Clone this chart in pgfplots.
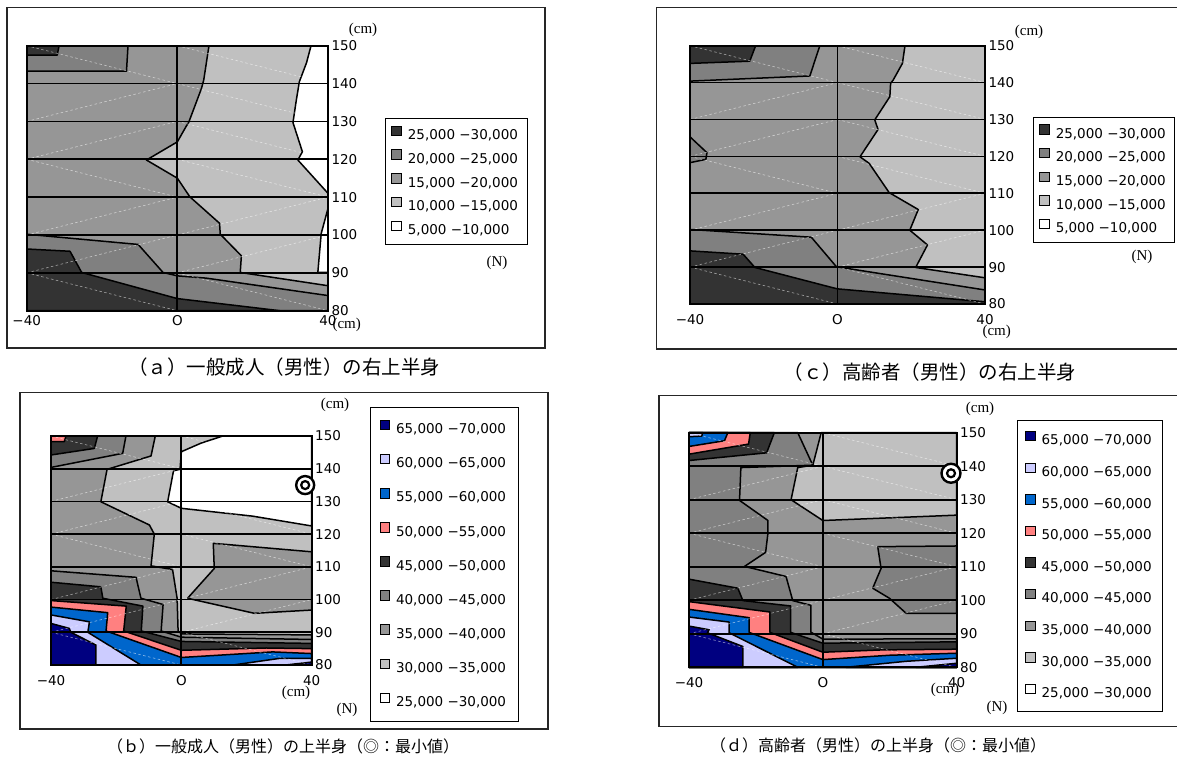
\documentclass[border=0pt]{standalone}
\usepackage{fontspec}
\usepackage{pgfplots}
\pgfplotsset{compat=1.18}
\setmainfont{DejaVu Sans}
\newfontfamily\jpfont{Noto Sans CJK JP}
\newfontfamily\unitfont{Liberation Serif}

\definecolor{g333}{HTML}{333333}
\definecolor{g808}{HTML}{808080}
\definecolor{g969}{HTML}{969696}
\definecolor{gc0}{HTML}{C0C0C0}
\definecolor{navyc}{HTML}{000080}
\definecolor{lavc}{HTML}{CCCCFF}
\definecolor{bluec}{HTML}{0066CC}
\definecolor{salc}{HTML}{FF8080}

\pgfplotsset{
  contourmap/.style={
    scale only axis, xmin=-40, xmax=40, ymin=80, ymax=150,
    enlargelimits=false, axis on top,
    xtick={-40,0,40}, xticklabels={−40,O,40},
    ytick={80,90,...,150}, yticklabels={80,90,100,110,120,130,140,150},
    yticklabel pos=right,
    grid=major, major grid style={black, line width=1.7pt},
    axis line style={black, line width=1.8pt},
    major tick length=0pt,
    tick label style={font=\fontsize{13.5}{16}\selectfont},
    legend cell align=left,
    legend style={draw=black, line width=0.9pt, anchor=north west,
      font=\fontsize{13.5}{16}\selectfont,
      nodes={text height=10pt, text depth=3pt, inner ysep=0pt, inner xsep=3pt},
      column sep=3pt},
    legend image code/.code={\draw[#1, draw=black, line width=1pt] (0pt,0.4pt) rectangle (9.5pt,9.9pt);},
  },
  band/.style={forget plot, fill=#1, draw=black, line width=1.5pt, line join=round},
  base/.style={forget plot, fill=#1, draw=none},
}

% triangulation lines of the surface mesh
\newcommand\meshlines{%
  \addplot[forget plot, white, line width=0.6pt, dash pattern=on 2.5pt off 2.5pt,
    opacity=0.55, unbounded coords=jump] coordinates {
    (-40,150) (0,140) (nan,nan)
    (-40,130) (0,140) (nan,nan)
    (-40,120) (0,130) (nan,nan)
    (-40,120) (0,110) (nan,nan)
    (-40,100) (0,110) (nan,nan)
    (-40,90) (0,100) (nan,nan)
    (-40,90) (0,80) (nan,nan)
    (0,150) (40,140) (nan,nan)
    (0,140) (40,130) (nan,nan)
    (0,130) (40,120) (nan,nan)
    (0,120) (40,110) (nan,nan)
    (0,100) (40,110) (nan,nan)
    (0,90) (40,100) (nan,nan)
    (0,90) (40,80)
  };}

\newcommand\legendAC{%
  \addlegendimage{fill=g333}\addlegendentry{25,000 −30,000}
  \addlegendimage{fill=g808}\addlegendentry{20,000 −25,000}
  \addlegendimage{fill=g969}\addlegendentry{15,000 −20,000}
  \addlegendimage{fill=gc0}\addlegendentry{10,000 −15,000}
  \addlegendimage{fill=white}\addlegendentry{5,000 −10,000}}

\newcommand\legendBD{%
  \addlegendimage{fill=navyc}\addlegendentry{65,000 −70,000}
  \addlegendimage{fill=lavc}\addlegendentry{60,000 −65,000}
  \addlegendimage{fill=bluec}\addlegendentry{55,000 −60,000}
  \addlegendimage{fill=salc}\addlegendentry{50,000 −55,000}
  \addlegendimage{fill=g333}\addlegendentry{45,000 −50,000}
  \addlegendimage{fill=g808}\addlegendentry{40,000 −45,000}
  \addlegendimage{fill=g969}\addlegendentry{35,000 −40,000}
  \addlegendimage{fill=gc0}\addlegendentry{30,000 −35,000}
  \addlegendimage{fill=white}\addlegendentry{25,000 −30,000}}

\begin{document}
\begin{tikzpicture}[x=1pt, y=1pt]
\useasboundingbox (0,0) rectangle (1177,758);
\fill[white] (0,0) rectangle (1177,758);

% panel frames
\draw[black!85, line width=1.2pt] (7,750.7) rectangle (545,410);
\draw[black!85, line width=1.2pt] (656.7,750.7) rectangle (1190,409);
\draw[black!85, line width=1.2pt] (20,365.3) rectangle (548,29);
\draw[black!85, line width=1.2pt] (659,362.3) rectangle (1190,31.3);

% ---------------- (a) ----------------
\begin{axis}[contourmap, at={(26.7pt,447.3pt)}, anchor=south west,
  width=301.3pt, height=265pt,
  xticklabel style={yshift=-1.5pt},
  legend style={at={(1.189,0.726)}, inner xsep=6pt, inner ysep=7pt, row sep=6.8pt}]
\addplot[base=g969] coordinates {(-40,80) (40,80) (40,150) (-40,150)} --cycle;
\addplot[band=gc0] coordinates {(8.4,150) (7.0,140.9) (6.4,138.7) (3.0,129.7) (2.4,128.8) (0,124.6) (-8.2,119.8) (0,115.0) (3.3,110.1) (11.2,103.1) (11.4,100.2) (17.0,94.5) (16.7,90.1) (40,86.6) (40,150)} --cycle;
\addplot[band=white] coordinates {(35.5,150) (34.3,145.5) (32.4,140.5) (31.6,135.7) (30.7,129.7) (33.2,122.0) (32.0,119.8) (40,111.0) (40,150)} --cycle;
\addplot[band=white] coordinates {(40,107.0) (38.2,100.4) (37.3,90.1) (40,90.1)} --cycle;
\addplot[band=g808] coordinates {(-40,150) (-13.1,150) (-13.5,143.3) (-40,143.3)} --cycle;
\addplot[band=g333] coordinates {(-40,150) (-31.4,150) (-31.9,147.5) (-40,147.5)} --cycle;
\addplot[band=g808] coordinates {(-40,100.2) (-10.4,97.5) (-3.8,90.1) (0,89.2) (7.7,88.6) (40,84.0) (40,80) (-40,80)} --cycle;
\addplot[band=g333] coordinates {(-40,96.3) (-28.5,95.7) (-25.4,90.1) (0,83.2) (27.2,80) (-40,80)} --cycle;
\meshlines
\legendAC
\end{axis}

% ---------------- (c) ----------------
\begin{axis}[contourmap, at={(690pt,454pt)}, anchor=south west,
  width=295pt, height=258.3pt,
  xticklabel style={yshift=-6.5pt},
  legend style={at={(1.162,0.725)}, inner xsep=6pt, inner ysep=7pt, row sep=6.8pt}]
\addplot[base=g969] coordinates {(-40,80) (40,80) (40,150) (-40,150)} --cycle;
\addplot[band=gc0] coordinates {(18.3,150) (17.6,145.2) (15.1,140.7) (14.4,139.8) (14.2,136.2) (10.1,129.9) (11.0,127.3) (6.1,119.9) (8.6,118.1) (14.0,110.2) (21.9,105.6) (19.6,100.0) (24.4,96.0) (21.2,89.9) (40,87.1) (40,150)} --cycle;
\addplot[band=g808] coordinates {(-40,150) (-4.8,150) (-7.5,141.8) (-40,140.4)} --cycle;
\addplot[band=g808] coordinates {(-40,125.3) (-35.4,121.0) (-35.7,119.2) (-40,118.3)} --cycle;
\addplot[band=g808] coordinates {(-40,100.2) (-7.1,98.1) (-0.3,90.1) (40,83.8) (40,80) (-40,80)} --cycle;
\addplot[band=g333] coordinates {(-40,150) (-22.2,150) (-23.8,145.8) (-40,145.2)} --cycle;
\addplot[band=g333] coordinates {(-40,94.4) (-25.6,93.5) (-22.4,89.9) (-1.6,84.5) (0,84.1) (40,80.6) (40,80) (-40,80)} --cycle;
\meshlines
\legendAC
\end{axis}

% ---------------- (b) ----------------
\begin{axis}[contourmap, at={(51pt,93pt)}, anchor=south west,
  width=260.7pt, height=229pt, clip=false,
  xticklabel style={yshift=-7pt},
  legend style={at={(1.224,1.125)}, inner xsep=9pt, inner ysep=12pt, row sep=17.2pt}]
\addplot[base=gc0] coordinates {(-40,80) (40,80) (40,150) (-40,150)} --cycle;
\addplot[band=white] coordinates {(12.7,150) (6.0,147.8) (0,145.2) (-0.4,139.8) (-2.4,139.4) (-4.2,129.9) (0,127.9) (21.9,125.5) (40,122.5) (40,150)} --cycle;
\addplot[band=g969] coordinates {(-40,150) (-8.0,150) (-9.3,143.9) (-22.8,139.8) (-24.7,129.9) (-9.8,122.8) (-8.3,120.0) (-9.3,110.3) (-2.7,109.2) (-1.3,100.4) (-1.0,90.5) (0,89.5) (40,89.2) (40,80) (-40,80)} --cycle;
\addplot[band=g969] coordinates {(9.8,117.2) (40,114.6) (40,96.8) (22.4,95.8) (1.9,100.4) (10.1,109.5)} --cycle;
\addplot[band=g808] coordinates {(-40,150) (-17.0,150) (-18.0,144.7) (-40,140.4)} --cycle;
\addplot[band=g808] coordinates {(-40,108.8) (-13.9,106.8) (-12.4,100.4) (-5.6,98.5) (-6.2,90.4) (0,88.5) (40,87.8) (40,80) (-40,80)} --cycle;
\addplot[band=g333] coordinates {(-40,150) (-25.7,150) (-26.7,146.2) (-40,144.2)} --cycle;
\addplot[band=g333] coordinates {(-40,105.3) (-24.7,103.9) (-24.1,100.4) (-11.8,98.0) (-12.3,90.4) (0,87.2) (40,86.6) (40,80) (-40,80)} --cycle;
\addplot[band=salc] coordinates {(-40,150) (-35.4,150) (-35.9,148.3) (-40,148.3)} --cycle;
\addplot[band=salc] coordinates {(-40,99.7) (-16.9,98.0) (-17.7,90.4) (0,84.5) (26,85.2) (40,85.0) (40,80) (-40,80)} --cycle;
\addplot[band=bluec] coordinates {(-40,97.7) (-22.6,96.0) (-23.1,90.4) (0,82.3) (28,84.0) (40,83.5) (40,80) (-40,80)} --cycle;
\addplot[band=lavc] coordinates {(-40,95.3) (-28.2,93.2) (-28.7,90.0) (-12.4,80) (-40,80)} --cycle;
\addplot[band=lavc] coordinates {(15.9,80) (30,82.0) (40,82.0) (40,80)} --cycle;
\addplot[band=navyc] coordinates {(-40,92.7) (-34.4,91.2) (-33.9,90.0) (-26.2,86.1) (-26.2,80) (-40,80)} --cycle;
\addplot[band=navyc] coordinates {(32,80) (40,80.9) (40,80)} --cycle;
\meshlines
% minimum value
\addplot[forget plot, only marks, mark=*, mark size=9pt, mark options={fill=white, draw=black, line width=2.4pt}] coordinates {(38,135.0)};
\addplot[forget plot, only marks, mark=o, mark size=4pt, mark options={draw=black, line width=2.2pt}] coordinates {(38,135.0)};
\legendBD
\end{axis}

% ---------------- (d) ----------------
\begin{axis}[contourmap, at={(689pt,90.7pt)}, anchor=south west,
  width=267.7pt, height=234.6pt, clip=false,
  xticklabel style={yshift=-7pt},
  legend style={at={(1.224,1.054)}, inner xsep=8pt, inner ysep=10.5pt, row sep=14.7pt}]
\addplot[base=g969] coordinates {(-40,80) (40,80) (40,150) (-40,150)} --cycle;
\addplot[band=gc0] coordinates {(-0.5,150) (-3.0,140.3) (-7.5,139.6) (-9.5,130.0) (0,123.8) (40,125.4) (40,150)} --cycle;
\addplot[band=g808] coordinates {(-40,150) (-7.5,150) (-3.0,140.3) (-24.5,139.6) (-24.9,129.8) (-16.4,123.8) (-16.4,120.1) (-17.1,114.3) (-23.4,110.1) (-11.0,107.1) (-9.0,99.9) (-3.6,98.5) (-3.6,90.5) (0,88.4) (40,88.5) (40,80) (-40,80)} --cycle;
\addplot[band=g808] coordinates {(16.4,116.0) (40,116.2) (40,96.1) (24.9,96.1) (19.9,100.6) (14.9,103.6) (17.4,109.5)} --cycle;
\addplot[band=g333] coordinates {(-40,150) (-14.5,150) (-16.8,144.0) (-40,141.7)} --cycle;
\addplot[band=g333] coordinates {(-40,106.3) (-25.4,103.6) (-23.9,99.9) (-9.6,98.3) (-9.6,90.4) (0,87.2) (40,87.6) (40,80) (-40,80)} --cycle;
\addplot[band=salc] coordinates {(-40,150) (-21.7,150) (-22.2,146.6) (-40,143.6)} --cycle;
\addplot[band=salc] coordinates {(-40,99.6) (-15.8,96.5) (-15.8,90.4) (0,84.5) (18,85.2) (40,85.4) (40,80) (-40,80)} --cycle;
\addplot[band=bluec] coordinates {(-40,150) (-28.4,150) (-29.4,147.6) (-40,145.9)} --cycle;
\addplot[band=bluec] coordinates {(-40,97.3) (-22.0,94.8) (-22.0,90.4) (0,82.3) (20,83.6) (40,84.2) (40,80) (-40,80)} --cycle;
\addplot[band=lavc] coordinates {(-40,150) (-35.9,150) (-36.2,149.0) (-40,148.8)} --cycle;
\addplot[band=lavc] coordinates {(-40,95.0) (-28.0,93.5) (-28.0,90.3) (-7.5,80) (-40,80)} --cycle;
\addplot[band=lavc] coordinates {(6.9,80) (25,81.8) (40,82.7) (40,80)} --cycle;
\addplot[band=navyc] coordinates {(-40,92.3) (-34.0,91.2) (-34.5,90.3) (-23.9,86.2) (-23.9,80) (-40,80)} --cycle;
\addplot[band=navyc] coordinates {(27.8,80) (40,81.2) (40,80)} --cycle;
\meshlines
% minimum value
\addplot[forget plot, only marks, mark=*, mark size=9.5pt, mark options={fill=white, draw=black, line width=2.4pt}] coordinates {(38.3,137.9)};
\addplot[forget plot, only marks, mark=o, mark size=4pt, mark options={draw=black, line width=2.2pt}] coordinates {(38.3,137.9)};
\legendBD
\end{axis}

% unit labels
\begin{scope}[font=\unitfont\fontsize{15}{17}\selectfont]
\node at (363,728) {(cm)};
\node at (346.7,433) {(cm)};
\node at (497,495) {(N)};
\node at (1029,726) {(cm)};
\node at (996.7,426.3) {(cm)};
\node at (1142,501) {(N)};
\node at (335,353) {(cm)};
\node at (296,65) {(cm)};
\node at (347,48) {(N)};
\node at (980,349) {(cm)};
\node at (945,68) {(cm)};
\node at (997,50) {(N)};
\end{scope}

% panel captions
\node[font=\jpfont\fontsize{19.5}{22}\selectfont] at (284,391) {（ａ）一般成人（男性）の右上半身};
\node[font=\jpfont\fontsize{19.5}{22}\selectfont] at (930,386) {（ｃ）高齢者（男性）の右上半身};
\node[font=\jpfont\fontsize{16}{18}\selectfont] at (283,12) {（ｂ）一般成人（男性）の上半身（◎：最小値）};
\node[font=\jpfont\fontsize{16}{18}\selectfont] at (878,13) {（ｄ）高齢者（男性）の上半身（◎：最小値）};
\end{tikzpicture}
\end{document}
